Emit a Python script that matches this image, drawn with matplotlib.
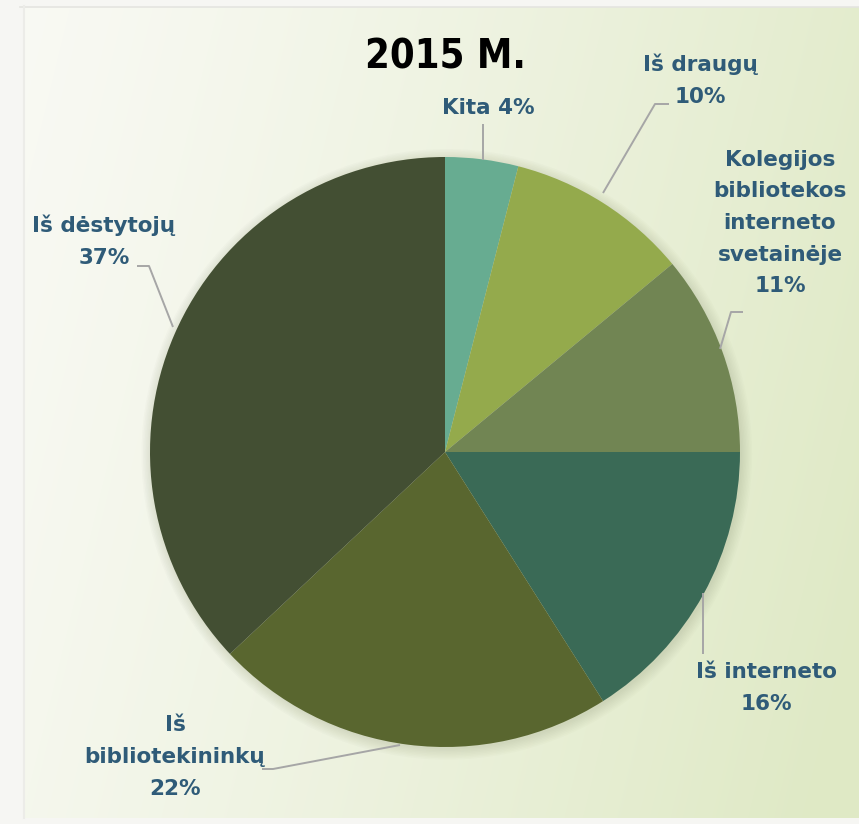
import numpy as np
import matplotlib.pyplot as plt
from matplotlib.patches import Circle

# ---- data ----
categories = ["Kita", "Iš draugų", "Kolegijos bibliotekos interneto svetainėje",
              "Iš interneto", "Iš bibliotekininkų", "Iš dėstytojų"]
values = [4, 10, 11, 16, 22, 37]
label_texts = ["Kita 4%", "Iš draugų\n10%",
               "Kolegijos\nbibliotekos\ninterneto\nsvetainėje\n11%",
               "Iš interneto\n16%", "Iš\nbibliotekininkų\n22%", "Iš dėstytojų\n37%"]
colors = ["#67AC91", "#94AA4C", "#718553", "#3A6A56", "#59662F", "#434F33"]
title = "2015 M."

W, H = 859, 824
fig = plt.figure(figsize=(W / 100, H / 100), dpi=100)
fig.patch.set_facecolor("#F6F6F3")

bg = fig.add_axes([0, 0, 1, 1])
bg.set_xlim(0, W)
bg.set_ylim(H, 0)
bg.axis("off")

# gradient background
xx = np.linspace(0, 1, 300)
yy = np.linspace(0, 1, 300)
X, Y = np.meshgrid(xx, yy)
t = np.clip(0.85 * X + 0.2 * Y, 0, 1) ** 1.2
c0 = np.array([0.975, 0.978, 0.955])
c1 = np.array([0.875, 0.915, 0.775])
img = c0 + (c1 - c0) * t[..., None]
bg.imshow(img, extent=[24, W, 818, 7], aspect="auto", zorder=0, interpolation="bilinear")
bg.plot([20, W], [6.5, 6.5], color="#E4E4E0", lw=1.2, zorder=1)
bg.plot([23.5, 23.5], [6, 818], color="#ECECE8", lw=1.5, zorder=1)

# ---- pie ----
ax = fig.add_axes([150 / W, (H - 747) / H, 590 / W, 590 / H])
ax.set_zorder(2)
ax.patch.set_alpha(0)
for k in range(8):
    ax.add_patch(Circle((0.006, -0.008), 1.0 + 0.005 * k, color="#6B7150",
                        alpha=0.025, lw=0, clip_on=False, zorder=0))
ax.pie(values, colors=colors, startangle=90, counterclock=False, radius=1,
       wedgeprops=dict(linewidth=0), center=(0, 0))
ax.set_xlim(-1, 1)
ax.set_ylim(-1, 1)
ax.axis("off")

# ---- overlay for labels ----
ov = fig.add_axes([0, 0, 1, 1])
ov.set_xlim(0, W)
ov.set_ylim(H, 0)
ov.axis("off")
ov.set_zorder(3)
ov.patch.set_alpha(0)

txt_color = "#2F5B78"
line_color = "#A6A6A6"
font = dict(family="DejaVu Sans", weight="bold", size=15.5, color=txt_color)

label_pos = [(488, 108), (700, 80), (780, 223), (766, 688), (175, 757), (104, 241)]
for (x, y), s in zip(label_pos, label_texts):
    ov.text(x, y, s, ha="center", va="center", linespacing=1.72, **font)

leaders = [
    [(483, 124), (483, 160)],
    [(669, 104), (655, 104), (603, 193)],
    [(743, 312), (731, 312), (720, 349)],
    [(703, 593), (703, 654)],
    [(262, 769), (273, 769), (400, 745)],
    [(137, 266), (149, 266), (173, 327)],
]
for pts in leaders:
    xs, ys = zip(*pts)
    ov.plot(xs, ys, color=line_color, lw=1.4, solid_capstyle="butt")

ov.text(445, 57, title, ha="center", va="center", fontsize=28.5, fontweight="bold",
        fontstretch="condensed", family="DejaVu Sans", color="black")

fig.savefig("out.png", dpi=100, facecolor=fig.get_facecolor())
